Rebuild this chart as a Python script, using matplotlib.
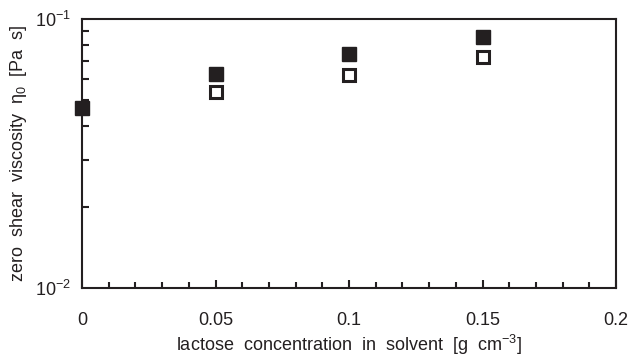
import matplotlib
matplotlib.use("Agg")
import matplotlib.pyplot as plt
from matplotlib.ticker import MultipleLocator, LogLocator, FixedLocator

plt.rcParams['font.family'] = ['Liberation Sans', 'DejaVu Sans']
plt.rcParams['mathtext.fontset'] = 'custom'
plt.rcParams['mathtext.rm'] = 'Liberation Sans'
plt.rcParams['mathtext.it'] = 'Liberation Sans:italic'

# lactose concentration [g cm-3]
conc = [0, 0.05, 0.1, 0.15]
visc_filled = [0.0467, 0.0624, 0.0741, 0.0857]
conc_open = [0.05, 0.1, 0.15]
visc_open = [0.0536, 0.0619, 0.0722]
xticks = [0, 0.05, 0.1, 0.15, 0.2]
xtick_labels = ['0', '0.05', '0.1', '0.15', '0.2']

ink = '#231f20'

fig = plt.figure(figsize=(6.34, 3.58), dpi=100)
ax = fig.add_axes([82/634, 1-288/358, (616-82)/634, (288-19)/358])

ax.plot(conc, visc_filled, ls='none', marker='s', ms=10.5, color=ink,
        mec=ink, clip_on=False, zorder=3)
ax.plot(conc_open, visc_open, ls='none', marker='s', ms=9, mfc='white',
        mec=ink, mew=2.2, clip_on=False, zorder=3)

ax.set_yscale('log')
ax.set_xlim(0, 0.2)
ax.set_ylim(0.01, 0.1)
ax.set_xticks(xticks)
ax.set_xticklabels(xtick_labels)
ax.xaxis.set_minor_locator(MultipleLocator(0.01))
ax.yaxis.set_major_locator(FixedLocator([0.01, 0.1]))
ax.yaxis.set_minor_locator(LogLocator(base=10, subs=range(2, 10)))
ax.set_yticklabels(['10$^{-2}$', '10$^{-1}$'])
ax.yaxis.set_minor_formatter(plt.NullFormatter())

ax.tick_params(axis='both', which='both', direction='in', color=ink,
               width=1.5, labelsize=13, labelcolor=ink)
ax.tick_params(axis='x', which='major', length=6, pad=17)
ax.tick_params(axis='x', which='minor', length=4)
ax.tick_params(axis='y', which='major', length=0, pad=8)
ax.tick_params(axis='y', which='minor', length=5)

for s in ax.spines.values():
    s.set_linewidth(1.5)
    s.set_color(ink)

ax.set_xlabel('lactose  concentration  in  solvent  [g  cm$^{-3}$]', fontsize=13,
              color=ink, labelpad=3)
ax.set_ylabel('zero  shear  viscosity  η$_0$  [Pa  s]', fontsize=13,
              color=ink, labelpad=4)

fig.savefig('out.png', dpi=100)
